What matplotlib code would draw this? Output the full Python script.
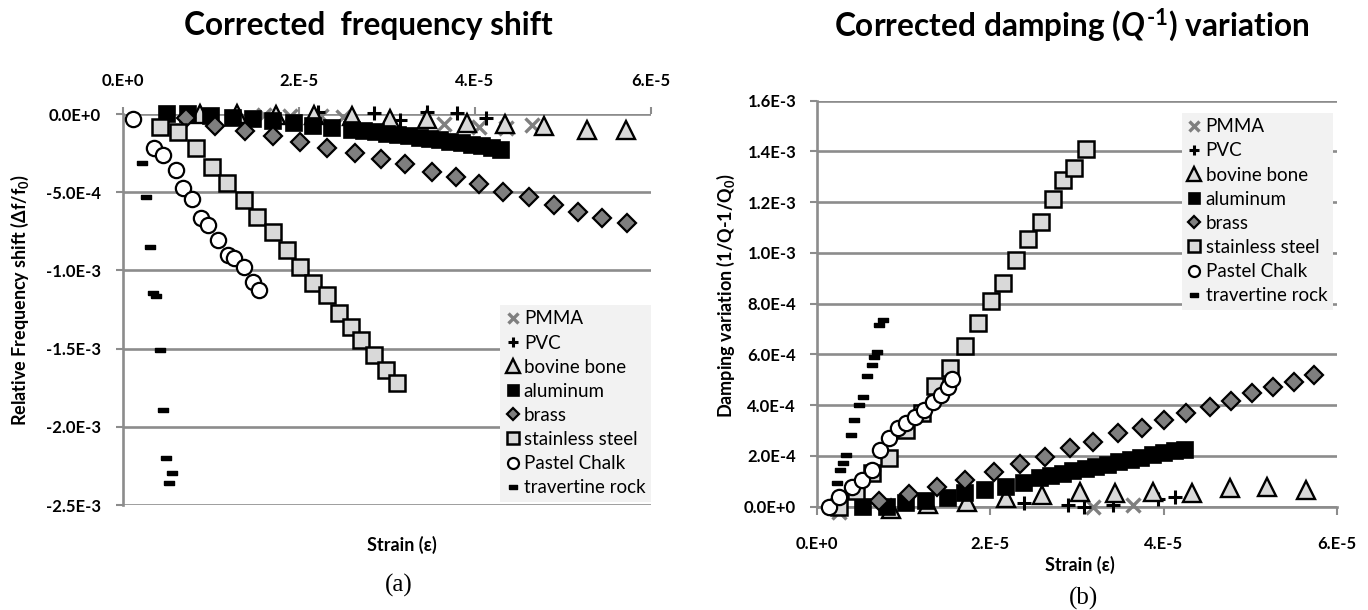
import numpy as np
import matplotlib.pyplot as plt
from matplotlib.path import Path

plt.rcParams['font.family'] = ['Lato', 'DejaVu Sans']
plt.rcParams['mathtext.fontset'] = 'custom'
plt.rcParams['mathtext.rm'] = 'Lato:bold'
plt.rcParams['mathtext.it'] = 'Lato:bold:italic'
plt.rcParams['mathtext.bf'] = 'Lato:bold'

# strain in units of 1e-5, (a) shift and (b) damping in units of 1e-4
labels = ['PMMA', 'PVC', 'bovine bone', 'aluminum', 'brass',
          'stainless steel', 'Pastel Chalk', 'travertine rock']

# ---- (a) frequency shift
pmma_a_x = [1.6, 1.9, 2.25, 2.5, 3.65, 4.05, 4.35, 4.65]
pmma_a_y = [-0.05, -0.1, -0.15, -0.2, -0.65, -0.8, -0.9, -0.7]
pvc_a_x = [2.22, 2.85, 3.15, 3.45, 3.8, 4.12]
pvc_a_y = [0.1, 0.05, -0.4, 0.1, 0.05, -0.25]
bone_a_x = [0.87, 1.3, 1.74, 2.17, 2.60, 3.03, 3.46, 3.91, 4.34, 4.78, 5.27, 5.71]
bone_a_y = [0, 0, -0.05, -0.05, -0.15, -0.3, -0.35, -0.6, -0.65, -0.75, -1.0, -1.05]
alu_a_x = [0.50, 0.74, 1.0, 1.25, 1.48, 1.70, 1.94, 2.16, 2.38, 2.60, 2.74, 2.87,
           3.0, 3.13, 3.25, 3.37, 3.49, 3.6, 3.72, 3.85, 3.97, 4.08, 4.19, 4.3]
alu_a_y = [0.0, 0.0, -0.1, -0.23, -0.34, -0.45, -0.6, -0.75, -0.87, -1.02, -1.1, -1.18,
           -1.27, -1.35, -1.43, -1.52, -1.6, -1.69, -1.77, -1.85, -1.95, -2.04, -2.15, -2.28]
brass_a_x = [0.72, 1.05, 1.39, 1.70, 2.01, 2.32, 2.64, 2.93, 3.20, 3.51, 3.78, 4.05,
             4.32, 4.61, 4.90, 5.17, 5.44, 5.73]
brass_a_y = [-0.28, -0.75, -1.08, -1.42, -1.82, -2.18, -2.51, -2.86, -3.2, -3.69, -4.01,
             -4.48, -4.97, -5.29, -5.82, -6.25, -6.67, -6.99]
steel_a_x = [0.42, 0.62, 0.83, 1.01, 1.18, 1.37, 1.52, 1.70, 1.86, 2.01, 2.16, 2.32,
             2.46, 2.59, 2.71, 2.85, 2.99, 3.11]
steel_a_y = [-0.85, -1.13, -2.19, -3.37, -4.43, -5.50, -6.57, -7.53, -8.70, -9.76,
             -10.79, -11.57, -12.74, -13.6, -14.45, -15.41, -16.37, -17.22]
chalk_a_x = [0.11, 0.35, 0.45, 0.60, 0.68, 0.78, 0.89, 0.97, 1.08, 1.19, 1.26, 1.37, 1.48, 1.55]
chalk_a_y = [-0.34, -2.19, -2.62, -3.58, -4.75, -5.45, -6.67, -7.10, -8.06, -9.02,
             -9.23, -9.76, -10.72, -11.25]
trav_a_x = [0.22, 0.26, 0.31, 0.34, 0.375, 0.425, 0.46, 0.49, 0.56, 0.52]
trav_a_y = [-3.15, -5.33, -8.48, -11.43, -11.64, -15.09, -18.93, -21.97, -22.97, -23.61]

# ---- (b) damping variation
pmma_b_x = [0.25, 3.19, 3.65]
pmma_b_y = [-0.2, 0.0, 0.07]
pvc_b_x = [2.39, 2.90, 3.08, 3.42, 3.94, 4.13]
pvc_b_y = [0.13, 0.07, 0.0, 0.07, 0.3, 0.4]
bone_b_x = [0.86, 1.28, 1.73, 2.18, 2.60, 3.03, 3.44, 3.88, 4.33, 4.77, 5.19, 5.64]
bone_b_y = [-0.1, 0.1, 0.2, 0.33, 0.46, 0.57, 0.53, 0.59, 0.53, 0.72, 0.79, 0.66]
alu_b_x = [0.53, 0.81, 1.03, 1.26, 1.51, 1.71, 1.94, 2.18, 2.39, 2.57, 2.70, 2.84,
           2.96, 3.10, 3.22, 3.36, 3.48, 3.62, 3.74, 3.88, 4.0, 4.13, 4.25]
alu_b_y = [0, 0, 0.13, 0.24, 0.33, 0.53, 0.66, 0.79, 0.92, 1.12, 1.2, 1.3,
           1.4, 1.48, 1.56, 1.66, 1.75, 1.84, 1.93, 2.02, 2.1, 2.18, 2.25]
brass_b_x = [0.71, 1.06, 1.39, 1.71, 2.04, 2.34, 2.63, 2.92, 3.19, 3.47, 3.75, 4.01,
             4.26, 4.53, 4.78, 5.02, 5.26, 5.50, 5.73]
brass_b_y = [0.24, 0.5, 0.79, 1.05, 1.38, 1.67, 1.97, 2.30, 2.56, 2.89, 3.09, 3.42,
             3.68, 3.92, 4.18, 4.47, 4.73, 4.93, 5.19]
steel_b_x = [0.25, 0.45, 0.63, 0.83, 1.03, 1.21, 1.36, 1.54, 1.71, 1.86, 2.01, 2.15,
             2.30, 2.44, 2.58, 2.72, 2.84, 2.97, 3.10]
steel_b_y = [0.0, 0.6, 1.32, 1.91, 3.02, 3.68, 4.75, 5.45, 6.33, 7.25, 8.12, 8.83,
             9.72, 10.54, 11.23, 12.11, 12.85, 13.34, 14.08]
chalk_b_x = [0.14, 0.25, 0.40, 0.52, 0.63, 0.73, 0.83, 0.93, 1.03, 1.13, 1.23, 1.34, 1.43, 1.51, 1.56]
chalk_b_y = [0, 0.4, 0.79, 1.05, 1.45, 2.23, 2.69, 3.09, 3.29, 3.52, 3.81, 4.14, 4.40, 4.73, 5.02]
trav_b_x = [0.23, 0.27, 0.30, 0.34, 0.39, 0.43, 0.48, 0.53, 0.58, 0.63, 0.66, 0.69, 0.72, 0.757]
trav_b_y = [0.92, 1.45, 1.73, 2.04, 2.83, 3.42, 4.0, 4.34, 5.15, 5.58, 5.89, 6.11, 7.16, 7.36]

xticks = [0, 2e-5, 4e-5, 6e-5]
xtick_labels = ['0.E+0', '2.E-5', '4.E-5', '6.E-5']
yticks_a = [0, -5e-4, -1e-3, -1.5e-3, -2e-3, -2.5e-3]
ytick_labels_a = ['0.0E+0', '-5.0E-4', '-1.0E-3', '-1.5E-3', '-2.0E-3', '-2.5E-3']
yticks_b = [0, 2e-4, 4e-4, 6e-4, 8e-4, 1e-3, 1.2e-3, 1.4e-3, 1.6e-3]
ytick_labels_b = ['0.0E+0', '2.0E-4', '4.0E-4', '6.0E-4', '8.0E-4', '1.0E-3',
                  '1.2E-3', '1.4E-3', '1.6E-3']

dash = Path([(-1, -0.45), (1, -0.45), (1, 0.45), (-1, 0.45), (-1, -0.45)])

styles = [
    dict(marker='x', color='#7f7f7f', ms=9.5, mew=2.4, ls='none'),
    dict(marker='+', color='black', ms=10.5, mew=2.2, ls='none'),
    dict(marker='^', mfc='#d9d9d9', mec='black', ms=13.5, mew=1.7, ls='none'),
    dict(marker='s', mfc='black', mec='black', ms=11, mew=1.2, ls='none'),
    dict(marker='D', mfc='#7f7f7f', mec='black', ms=8.8, mew=1.6, ls='none'),
    dict(marker='s', mfc='#d9d9d9', mec='black', ms=11.5, mew=1.8, ls='none'),
    dict(marker='o', mfc='white', mec='black', ms=11, mew=1.6, ls='none'),
    dict(marker=dash, mfc='black', mec='black', ms=7.5, mew=1.0, ls='none'),
]

grid_c = '#8c8c8c'

fig = plt.figure(figsize=(13.68, 6.10), dpi=100)
ax1 = fig.add_axes([0.0899, 0.1721, 0.3860, 0.6410])
ax2 = fig.add_axes([0.5972, 0.1693, 0.3801, 0.6659])

series_a = [(pmma_a_x, pmma_a_y), (pvc_a_x, pvc_a_y), (bone_a_x, bone_a_y),
            (alu_a_x, alu_a_y), (brass_a_x, brass_a_y), (steel_a_x, steel_a_y),
            (chalk_a_x, chalk_a_y), (trav_a_x, trav_a_y)]
series_b = [(pmma_b_x, pmma_b_y), (pvc_b_x, pvc_b_y), (bone_b_x, bone_b_y),
            (alu_b_x, alu_b_y), (brass_b_x, brass_b_y), (steel_b_x, steel_b_y),
            (chalk_b_x, chalk_b_y), (trav_b_x, trav_b_y)]

for ax, series in [(ax1, series_a), (ax2, series_b)]:
    for (sx, sy), lab, st in zip(series, labels, styles):
        ax.plot(np.array(sx) * 1e-5, np.array(sy) * 1e-4, label=lab,
                clip_on=False, zorder=3, **st)
    ax.set_xlim(0, 6e-5)
    ax.set_axisbelow(True)
    ax.yaxis.grid(True, color=grid_c, lw=1.9)
    for s in ['top', 'right', 'bottom']:
        ax.spines[s].set_visible(False)
    ax.spines['left'].set_color(grid_c)
    ax.spines['left'].set_linewidth(1.9)
    ax.set_xticks(xticks)
    ax.set_xticklabels(xtick_labels, fontsize=12, fontweight='bold')

# (a) axes
ax1.set_ylim(-2.5e-3, 0)
ax1.xaxis.tick_top()
ax1.tick_params(axis='x', length=5, width=1.5, color=grid_c, pad=13)
ax1.set_yticks(yticks_a)
ax1.set_yticklabels(ytick_labels_a, fontsize=12, fontweight='bold')
ax1.tick_params(axis='y', length=5, width=1.5, color=grid_c, pad=11)

# (b) axes
ax2.set_ylim(0, 1.6e-3)
ax2.spines['bottom'].set_visible(True)
ax2.spines['bottom'].set_color(grid_c)
ax2.spines['bottom'].set_linewidth(1.9)
ax2.tick_params(axis='x', length=6, width=1.5, color=grid_c, pad=15)
ax2.set_yticks(yticks_b)
ax2.set_yticklabels(ytick_labels_b, fontsize=12, fontweight='bold')
ax2.tick_params(axis='y', length=5, width=1.5, color=grid_c, pad=10)

leg_kw = dict(frameon=True, fancybox=False, fontsize=13.5, markerscale=0.72,
              handlelength=0.7, handletextpad=0.25, labelspacing=0.38,
              borderpad=0.3, borderaxespad=0, numpoints=1)
leg1 = ax1.legend(loc='lower right', bbox_to_anchor=(1.0, 0.008), **leg_kw)
leg2 = ax2.legend(loc='upper right', bbox_to_anchor=(0.992, 0.97), **leg_kw)
for leg in (leg1, leg2):
    leg.get_frame().set_facecolor('#f2f2f2')
    leg.get_frame().set_edgecolor('none')
    leg.get_frame().set_alpha(1)
    leg.set_zorder(5)

# titles and labels
fig.text(368 / 1368, 1 - 25 / 610, 'Corrected  frequency shift', ha='center',
         va='center', fontsize=22.8, fontweight='bold')
fig.text(1072 / 1368, 1 - 25 / 610, r'Corrected damping ($Q^{\text{-}\mathit{1}}$) variation',
         ha='center', va='center', fontsize=22.8, fontweight='bold')
fig.text(402 / 1368, 1 - 545 / 610, 'Strain (ε)', ha='center', va='center',
         fontsize=13, fontweight='bold')
fig.text(1080 / 1368, 1 - 565 / 610, 'Strain (ε)', ha='center', va='center',
         fontsize=13, fontweight='bold')
fig.text(20 / 1368, 1 - 300 / 610, 'Relative Frequency shift (Δf/f$_0$)',
         rotation=90, ha='center', va='center', fontsize=13, fontweight='bold')
fig.text(726 / 1368, 1 - 296 / 610, 'Damping variation (1/Q-1/Q$_0$)',
         rotation=90, ha='center', va='center', fontsize=13, fontweight='bold')
fig.text(399 / 1368, 1 - 585 / 610, '(a)', ha='center', va='center',
         fontsize=18, family='Liberation Serif')
fig.text(1083 / 1368, 1 - 598 / 610, '(b)', ha='center', va='center',
         fontsize=18, family='Liberation Serif')

fig.savefig('out.png', dpi=100)
